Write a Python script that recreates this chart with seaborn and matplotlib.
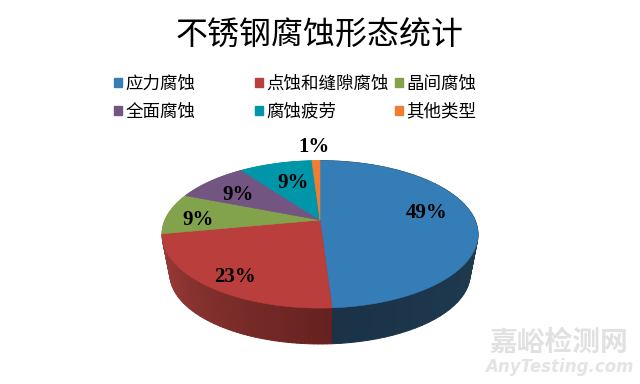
import numpy as np
import matplotlib
matplotlib.use("Agg")
import matplotlib.pyplot as plt
from matplotlib.patches import Patch
from matplotlib.path import Path
from matplotlib.transforms import Transform
import seaborn as sns

# ---- data ----
TITLE = "不锈钢腐蚀形态统计"
categories = ["应力腐蚀", "点蚀和缝隙腐蚀", "晶间腐蚀", "全面腐蚀", "腐蚀疲劳", "其他类型"]
values = [49, 23, 9, 9, 9, 1]
hex_colors = ["#357DB6", "#B93E3C", "#82A24B", "#735582", "#0096AA", "#F07D32"]

sns.set_theme(style="white")
plt.rcParams["font.family"] = ["Noto Sans CJK SC", "DejaVu Sans"]
palette = sns.color_palette(hex_colors)


class Perspective(Transform):
    """Tilted-disc projection of the unit pie into figure pixels."""
    input_dims = output_dims = 2
    is_separable = False
    has_inverse = False

    def __init__(self, cx, cy, sx, sy, k):
        super().__init__()
        self.p = (cx, cy, sx, sy, k)

    def transform_non_affine(self, xy):
        cx, cy, sx, sy, k = self.p
        xy = np.asarray(xy, float)
        d = 1 + k * xy[:, 1]
        return np.column_stack([cx + sx * xy[:, 0] / d, cy - sy * xy[:, 1] / d])

    def transform_path_non_affine(self, path):
        pts = []
        for curve, _ in path.iter_bezier():
            if curve.degree == 0:
                pts.append(np.atleast_2d(curve.control_points))
            else:
                pts.append(np.asarray(curve(np.linspace(0, 1, 24)[1:])).reshape(-1, 2))
        verts = np.vstack(pts)
        return Path(self.transform_non_affine(verts), closed=True)


def mix(a, b, t):
    return tuple(np.array(a) * (1 - t) + np.array(b) * t)


fig = plt.figure(figsize=(6.4, 3.84), dpi=100, facecolor="white")
ax = fig.add_axes([0, 0, 1, 1])

# side wall: stacked layers of the same pie, thin sub-slices carry the shading
SUB = 60
wall_values, wall_colors = [], []
shades = [("#24495E", "#1B3247"), ("#652220", "#9E3D39")]
for v, (c0, c1) in zip(values[:2], shades):
    wall_values += [v / SUB] * SUB
    wall_colors += [mix(matplotlib.colors.to_rgb(c0), matplotlib.colors.to_rgb(c1), t)
                    for t in np.linspace(0, 1, SUB)]
for v, c in zip(values[2:], palette[2:]):
    wall_values.append(v)
    wall_colors.append(c)

LAYERS = 37
for t in np.linspace(1, 0, LAYERS):
    s = 1 - 0.05 * t
    proj = Perspective(320, 220 + 40.3 * t, 155 * s, 70.9 * s, 0.195)
    wedges, _ = ax.pie(wall_values, colors=wall_colors, startangle=90,
                       counterclock=False, frame=True)
    for w in wedges:
        w.set_transform(proj + ax.transData)
        w.set_edgecolor(w.get_facecolor())
        w.set_linewidth(0.7)

# top face
top = Perspective(320, 220, 155, 70.9, 0.195)
wedges, _ = ax.pie(values, colors=palette, startangle=90, counterclock=False, frame=True)
for w in wedges:
    w.set_transform(top + ax.transData)
    w.set_edgecolor(w.get_facecolor())
    w.set_linewidth(0.4)

ax.set_aspect("auto")
ax.set_xlim(0, 640)
ax.set_ylim(384, 0)
ax.axis("off")

# data labels
label_xy = [(427, 213), (235, 277), (198, 220), (238, 195), (293, 183), (314, 147)]
for v, (x, y) in zip(values, label_xy):
    ax.text(x, y, f"{v}%", ha="center", va="center", family="Liberation Serif",
            weight="bold", size=15, color="black")

# title
ax.text(320, 36, TITLE, ha="center", va="center", size=23, color="black")

# legend: a fixed grid, filled row by row
col_x = [114, 255, 395]
legends = []
for col, x in enumerate(col_x):
    handles = [Patch(color=palette[col + 3 * r], label=categories[col + 3 * r]) for r in range(2)]
    leg = ax.legend(handles=handles, loc="upper left", bbox_to_anchor=(x / 640, 1 - 74.5 / 384),
                    bbox_transform=fig.transFigure, frameon=False, fontsize=12.6,
                    handlelength=0.46, handleheight=0.46, handletextpad=0.2,
                    labelspacing=0.58, borderpad=0, borderaxespad=0,
                    labelcolor="black")
    legends.append(leg)
for leg in legends[:-1]:
    ax.add_artist(leg)

# watermark
ax.text(559, 343, "嘉峪检测网", ha="center", va="center", size=20, weight="bold", color="#E1E1E1")
ax.text(559, 367, "AnyTesting.com", ha="center", va="center", size=12,
        style="italic", weight="bold", family="DejaVu Sans", color="#E4E4E4")

fig.savefig("out.png", dpi=100)
